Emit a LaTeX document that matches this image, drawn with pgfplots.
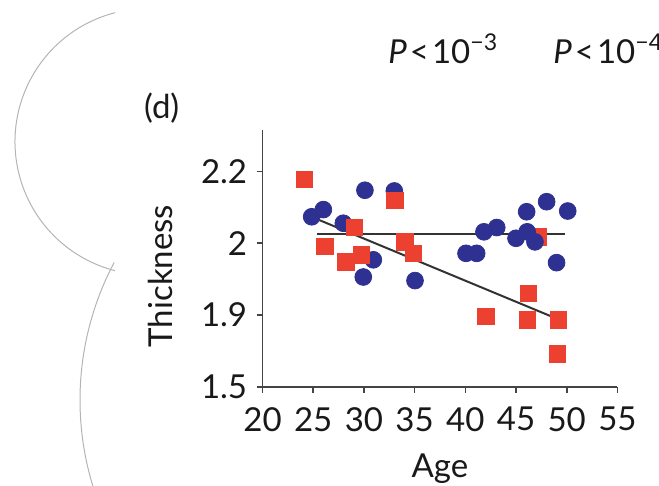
\documentclass[border=0pt]{standalone}
\usepackage{pgfplots}
\pgfplotsset{compat=1.18}
\usepackage{fontspec}
\setmainfont{Lato}
\definecolor{dotblue}{HTML}{2E3192}
\definecolor{sqred}{HTML}{EC4130}
\definecolor{axgray}{HTML}{444444}
\definecolor{linegray}{HTML}{333333}
\definecolor{arcgray}{HTML}{B4B4B4}
\newcommand{\fs}{\fontsize{16.5}{19}\selectfont}
\begin{document}
\begin{tikzpicture}
% decorative arcs of the surrounding figure
\draw[arcgray, line width=0.5pt] (74.1pt,-70.85pt) ++(104.4:66.6pt) arc[start angle=104.4, end angle=255.6, radius=66.6pt];
\draw[arcgray, line width=0.5pt] (187pt,-200pt) ++(152.1:147pt) arc[start angle=152.1, end angle=200, radius=147pt];
\begin{axis}[
  at={(131.25pt,-193.35pt)}, anchor=south west,
  x=5.07pt, y=35.85pt,
  xmin=20, xmax=55, ymin=0, ymax=3.58,
  axis x line*=bottom, axis y line*=left,
  axis line style={axgray, line width=0.9pt, -},
  tick style={axgray, line width=0.8pt},
  tick align=outside, major tick length=3pt,
  xtick={20,25,...,55},
  ytick={0,1,2,3}, yticklabels={1.5,1.9,2,2.2},
  /pgf/number format/assume math mode=true,
  ticklabel style={font=\fs, text=black!90},
  xticklabel style={inner sep=1pt, yshift=-6pt},
  yticklabel style={inner sep=1pt, xshift=-3.5pt},
  xlabel={Age}, ylabel={Thickness},
  label style={font=\fs, text=black!90},
  xlabel style={at={(axis description cs:0.5,0)}, anchor=base, yshift=-45.6pt},
  ylabel style={at={(axis description cs:0,0.431)}, anchor=center, yshift=50.9pt},
  clip=false,
]
% red square partly hidden behind circles
\addplot[only marks, mark=square*, mark size=4.1pt, color=sqred, mark options={draw=none, fill=sqred}]
  coordinates {(47.2,2.09)};
% blue circles
\addplot[only marks, mark=*, mark size=4.2pt, color=dotblue, mark options={draw=none, fill=dotblue}]
  coordinates {
  (24.85,2.37) (26.0,2.47) (27.97,2.28) (30.1,2.74) (30.93,1.77) (29.94,1.53)
  (33.0,2.73) (35.04,1.48) (40.07,1.86) (41.12,1.86) (41.84,2.16) (43.1,2.22)
  (45.0,2.07) (46.05,2.44) (46.1,2.16) (46.87,2.02) (48.02,2.58) (50.1,2.45)
  (49.0,1.73)};
% red squares
\addplot[only marks, mark=square*, mark size=4.1pt, color=sqred, mark options={draw=none, fill=sqred}]
  coordinates {
  (24.12,2.89) (26.16,1.96) (29.05,2.22) (28.23,1.74) (29.78,1.84) (33.07,2.60)
  (34.05,2.02) (34.87,1.86) (42.04,0.98) (46.21,1.30) (46.1,0.93) (49.17,0.93)
  (49.07,0.456)};
% fit lines
\addplot[linegray, line width=1pt] coordinates {(25.35,2.13) (49.8,2.13)};
\addplot[linegray, line width=1pt] coordinates {(25.5,2.33) (49.17,0.94)};
\end{axis}
\node[font=\fs, text=black!90, anchor=center] at (80.85pt,-54.15pt) {(d)};
\node[font=\fs, text=black!90, anchor=base west, inner sep=0pt] at (194pt,-31.65pt) {\textit{P}\kern1.5pt<\kern1.5pt10\textsuperscript{−3}};
\node[font=\fs, text=black!90, anchor=base west, inner sep=0pt] at (276.5pt,-31.65pt) {\textit{P}\kern1.5pt<\kern1.5pt10\textsuperscript{−4}};
\pgfresetboundingbox
\useasboundingbox (0pt,0pt) rectangle (329.5pt,-243pt);
\end{tikzpicture}
\end{document}
